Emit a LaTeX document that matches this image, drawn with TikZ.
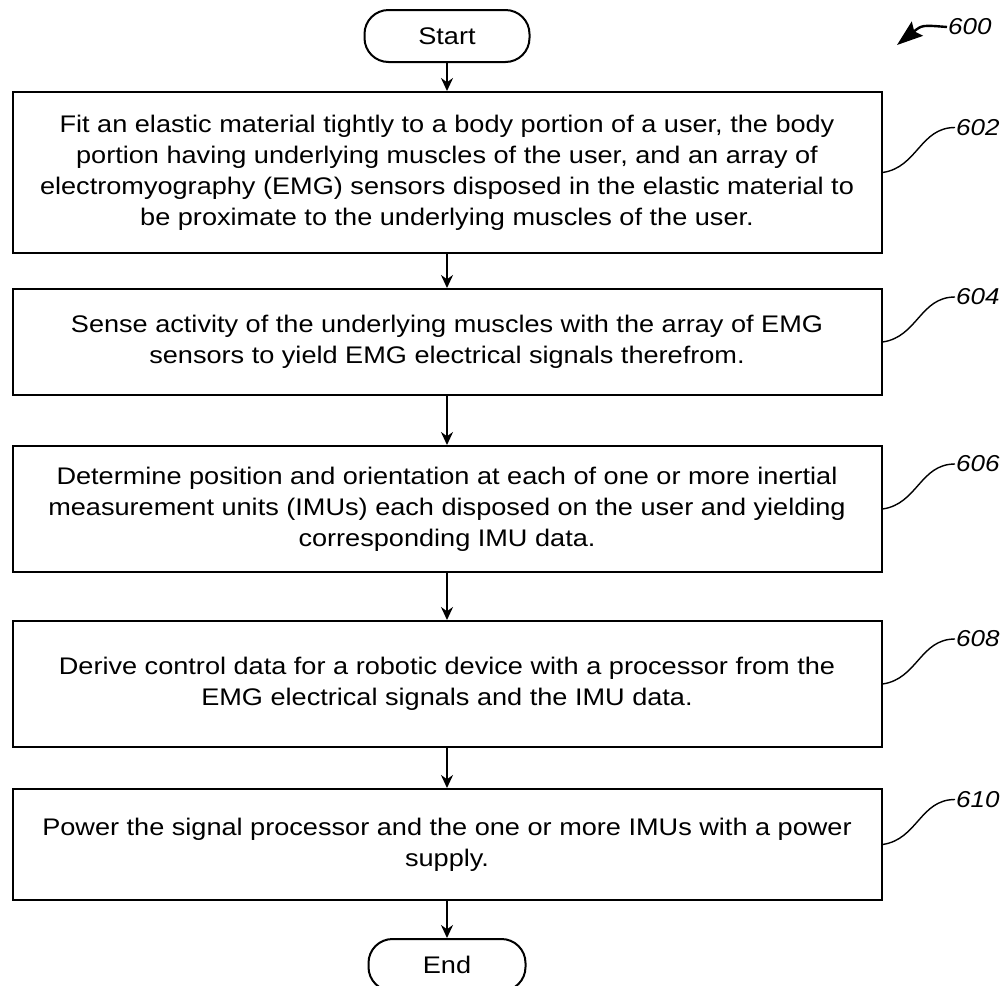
\documentclass[tikz,border=0pt]{standalone}
\usepackage{fontspec}
\setmainfont{Liberation Sans}[FakeStretch=1.13]
\usetikzlibrary{arrows.meta, positioning}

\begin{document}
\begin{tikzpicture}[x=1pt, y=-1pt, >={Stealth[length=13pt,width=12pt]},
    stepbox/.style={draw, line width=2pt, minimum width=869pt, align=center,
      font=\fontsize{24}{31}\selectfont, inner sep=0pt},
    terminal/.style={draw, line width=2pt, rounded corners=24pt, minimum width=165pt,
      minimum height=52pt, font=\fontsize{24}{28}\selectfont},
    reflabel/.style={font=\fontsize{23}{28}\selectfont\itshape, inner sep=1pt, anchor=west},
    flow/.style={->, line width=2pt},
    leader/.style={line width=1.4pt}]

    \useasboundingbox (0,0) rectangle (1005,986);

    % Start and end
    \node[terminal] (start) at (447,36) {Start};
    \node[terminal, minimum width=157pt] (end) at (447,965) {End};

    % Steps
    \node[stepbox, minimum height=161pt] (b602) at (447,172.5)
      {Fit an elastic material tightly to a body portion of a user, the body\\
       portion having underlying muscles of the user, and an array of\\
       electromyography (EMG) sensors disposed in the elastic material to\\
       be proximate to the underlying muscles of the user.};
    \node[stepbox, minimum height=106pt] (b604) at (447,342)
      {Sense activity of the underlying muscles with the array of EMG\\
       sensors to yield EMG electrical signals therefrom.};
    \node[stepbox, minimum height=126pt] (b606) at (447,509)
      {Determine position and orientation at each of one or more inertial\\
       measurement units (IMUs) each disposed on the user and yielding\\
       corresponding IMU data.};
    \node[stepbox, minimum height=126pt] (b608) at (447,684)
      {Derive control data for a robotic device with a processor from the\\
       EMG electrical signals and the IMU data.};
    \node[stepbox, minimum height=111pt] (b610) at (447,844.5)
      {Power the signal processor and the one or more IMUs with a power\\
       supply.};

    % Flow arrows
    \draw[flow] (start) -- (b602);
    \draw[flow] (b602) -- (b604);
    \draw[flow] (b604) -- (b606);
    \draw[flow] (b606) -- (b608);
    \draw[flow] (b608) -- (b610);
    \draw[flow] (b610) -- (end);

    % Reference numerals
    \node[reflabel] (l600) at (947,27) {600};
    \coordinate (p600) at (897,45);
    \draw[leader, line width=2.4pt, -{Stealth[length=26pt,width=18pt,inset=4pt]}]
      (l600.west) .. controls +(-25,-2) and +(25,-20) .. (p600);

    \foreach \n/\y in {602/172.5, 604/342, 606/509, 608/684, 610/844.5} {
      \node[reflabel] (l\n) at (955,\y-45) {\n};
      \draw[leader] (b\n.east) .. controls +(35,-5) and +(-35,0) .. (l\n.west);
    }

\end{tikzpicture}
\end{document}
